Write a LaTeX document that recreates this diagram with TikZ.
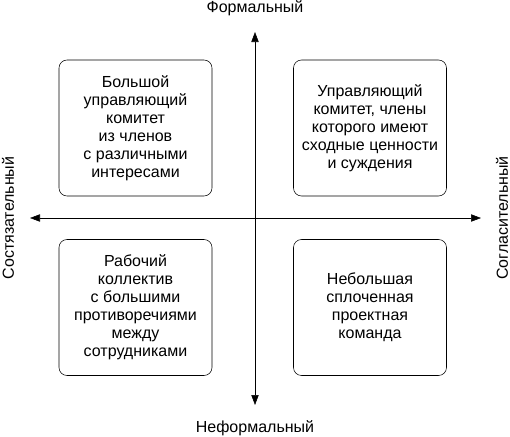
\documentclass[tikz,border=0pt]{standalone}
\usepackage{fontspec}
\setmainfont{Liberation Sans}
\usetikzlibrary{arrows.meta}
\begin{document}
\begin{tikzpicture}[x=0.75pt,y=0.75pt,yscale=-1,
  quad/.style={draw, rounded corners=6pt, minimum width=114.75pt, minimum height=102pt,
    inner sep=0pt, align=center, font=\fontsize{12}{13.5}\selectfont},
  axis/.style={font=\fontsize{12}{13.5}\selectfont},
  arr/.style={-{Triangle[length=7.5pt,width=5.5pt]}}]
\useasboundingbox (0,0) rectangle (510,436);

%Axes 
\coordinate (origin) at (255,218);
\coordinate (top) at (255,32);
\coordinate (bottom) at (255,405);
\coordinate (left) at (30,218);
\coordinate (right) at (481,218);
\draw [arr] (origin) -- (top) ;
\draw [arr] (origin) -- (bottom) ;
\draw [arr] (origin) -- (left) ;
\draw [arr] (origin) -- (right) ;

% Axis labels
\node [axis] (formal) at (255,8) {Формальный};
\node [axis] (informal) at (255,428) {Неформальный};
\node [axis, rotate=90] (compet) at (8,218) {Состязательный};
\node [axis, rotate=90] (concil) at (502,218) {Согласительный};

% Quadrants
\node [quad] (bigcom) at (135.5,128) {Большой\\управляющий\\комитет\\из членов\\с различными\\интересами};
\node [quad] (mancom) at (370,128) {Управляющий\\комитет, члены\\которого имеют\\сходные ценности\\и суждения};
\node [quad] (workteam) at (135.5,307.5) {Рабочий\\коллектив\\с большими\\противоречиями\\между\\сотрудниками};
\node [quad] (projteam) at (370,307.5) {Небольшая\\сплоченная\\проектная\\команда};

\end{tikzpicture}
\end{document}
